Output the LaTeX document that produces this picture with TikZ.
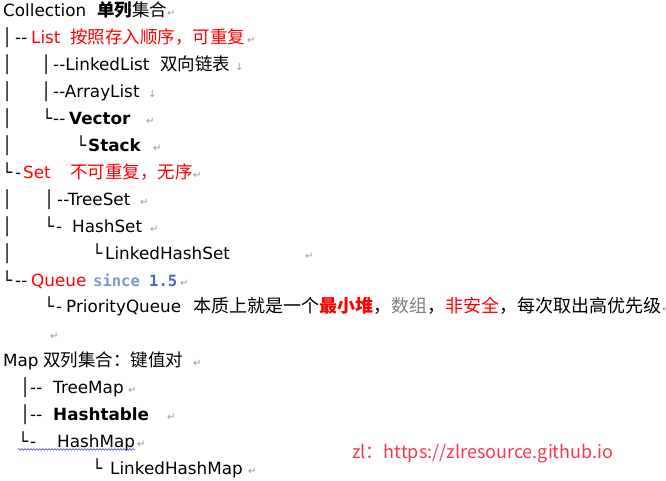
\documentclass[tikz,border=0pt]{standalone}
\usepackage{fontspec}
\setmainfont{DejaVu Sans}
\newfontfamily\cjk{Noto Sans CJK SC}
\newfontfamily\code{DejaVu Sans Mono}
\usetikzlibrary{decorations.pathmorphing}
\definecolor{sincecol}{RGB}{122,154,196}
\definecolor{verblue}{RGB}{68,102,204}
\definecolor{markgray}{RGB}{150,150,150}
\definecolor{urlred}{RGB}{250,55,70}
\definecolor{spellblue}{RGB}{40,40,255}
\newcommand{\zh}[1]{{\cjk\fontsize{17.5}{20}\selectfont #1}}

\begin{document}
\begin{tikzpicture}[x=1pt,y=-26.9pt,
    txt/.style={anchor=base west,inner sep=0pt,font=\fontsize{16.8}{20}\selectfont},
    hot/.style={txt,text=red},
    ret/.style={anchor=base west,inner sep=0pt,text=markgray,font=\fontsize{10}{12}\selectfont},
    squiggle/.style={spellblue,line width=0.5pt,decorate,decoration={snake,amplitude=0.8pt,segment length=3pt}}]
  \useasboundingbox (0pt,17pt) rectangle (666pt,-464pt);

  % tree lines
  \foreach \x/\r [count=\i] in {2/1,2/2,41/2,2/3,41/3,2/4,2/5,2/7,44/7,2/8,2/9,20/14,20/15}
    \node[txt] (bar\i) at (\x,\r) {│};
  \foreach \x/\r in {42/4,76/5,2/6,44/8,92/9,2/10,44/11,18/16,92/17}
    \node[txt] (cnr\r) at (\x,\r) {└};

  % Collection
  \node[txt] (coll) at (3,0) {Collection};
  \node[txt] (coll-zh) at (97,0) {\zh{\bfseries 单列}\zh{集合}};
  \node[txt] (list-dash) at (15,1) {-{}-};
  \node[hot] (list) at (31,1) {List};
  \node[hot] (list-zh) at (70,1) {\zh{按照存入顺序，可重复}};
  \node[txt] (llist) at (53,2) {-{}-LinkedList};
  \node[txt] (llist-zh) at (160,2) {\zh{双向链表}};
  \node[txt] (alist) at (53,3) {-{}-ArrayList};
  \node[txt] (vec-dash) at (53,4) {-{}-};
  \node[txt,font=\fontsize{16.8}{20}\selectfont\bfseries] (vec) at (69,4) {Vector};
  \node[txt,font=\fontsize{16.8}{20}\selectfont\bfseries] (stack) at (88,5) {Stack};
  \node[txt] (set-dash) at (15,6) {-};
  \node[hot] (set) at (23,6) {Set};
  \node[hot] (set-zh) at (70,6) {\zh{不可重复，无序}};
  \node[txt] (tset) at (57,7) {-{}-TreeSet};
  \node[txt] (hset-dash) at (56,8) {-};
  \node[txt] (hset) at (72,8) {HashSet};
  \node[txt] (lhset) at (105,9) {LinkedHashSet};
  \node[txt] (queue-dash) at (15,10) {-{}-};
  \node[hot] (queue) at (31,10) {Queue};
  \node[txt,text=sincecol,font=\code\fontsize{15.5}{20}\selectfont\bfseries] (since) at (93,10) {since \textcolor{verblue}{1.5}};
  \node[txt] (pq-dash) at (56,11) {-};
  \node[txt] (pq) at (66,11) {PriorityQueue};
  \node[txt] (pq-zh) at (193,11) {{\cjk\fontsize{18}{20}\selectfont 本质上就是一个\textcolor{red}{\bfseries 最小堆}，\textcolor{gray}{数组}，\textcolor{red}{非安全}，每次取出高优先级}};

  % Map
  \node[txt] (map) at (3,13) {Map};
  \node[txt] (map-zh) at (43,13) {\zh{双列集合：键值对}};
  \node[txt] (tmap-dash) at (30,14) {-{}-};
  \node[txt] (tmap) at (53,14) {TreeMap};
  \node[txt] (htab-dash) at (30,15) {-{}-};
  \node[txt,font=\fontsize{16.8}{20}\selectfont\bfseries] (htab) at (53,15) {Hashtable};
  \node[txt] (hmap-dash) at (30,16) {-};
  \node[txt] (hmap) at (57,16) {HashMap};
  \node[txt] (lhmap) at (110,17) {LinkedHashMap};
  \draw[squiggle] ([yshift=-2pt]cnr16.base west) -- ([yshift=-2pt]hmap.base east);

  % paragraph marks
  \foreach \x/\r [count=\i] in {167/0,247/1,146/4,153/5,193/6,140/7,150/8,305/9,180/10,662/11,50/12,193/13,128/14,167/15,137/16,248/17}
    \node[ret] (ret\i) at (\x,\r) {↵};
  \node[ret] (brk1) at (235,2) {↓};
  \node[ret] (brk2) at (148,3) {↓};

  \node[anchor=base west,inner sep=0pt,text=urlred,font=\cjk\fontsize{18}{20}\selectfont] (site) at (352pt,-441pt) {zl：https://zlresource.github.io};
\end{tikzpicture}
\end{document}
